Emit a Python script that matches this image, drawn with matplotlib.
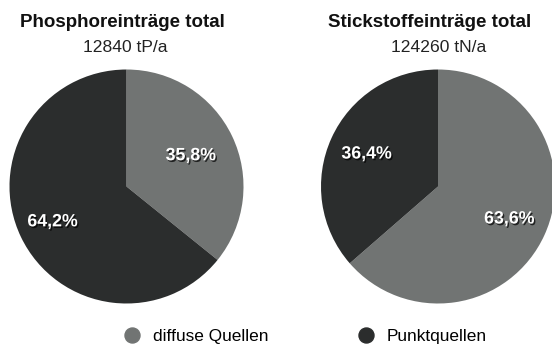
import matplotlib
matplotlib.use('Agg')
import matplotlib.pyplot as plt
import matplotlib.patheffects as pe
from matplotlib.lines import Line2D
import numpy as np

plt.rcParams['font.family'] = ['Liberation Sans', 'DejaVu Sans']

categories = ['diffuse Quellen', 'Punktquellen']
titles = ['Phosphoreinträge total', 'Stickstoffeinträge total']
totals = ['12840 tP/a', '124260 tN/a']
phosphor = [35.8, 64.2]
stickstoff = [63.6, 36.4]
colors = ['#717473', '#2b2d2d']

W, H = 552, 345
fig = plt.figure(figsize=(W / 100, H / 100), dpi=100)
ax = fig.add_axes([0, 0, 1, 1])

R = 117
layout = [
    (phosphor, (126.5, H - 186.5), [0.61, 0.70], 122, 125.5),
    (stickstoff, (438, H - 186.5), [0.67, 0.67], 429.5, 438.5),
]

shadow = [pe.SimplePatchShadow(offset=(1, -1.2), shadow_rgbFace='black', alpha=0.7), pe.Normal()]

for values, center, dists, tx, sx in layout:
    wedges, _ = ax.pie(values, colors=colors, startangle=90, counterclock=False,
                       radius=R, center=center, frame=True,
                       wedgeprops=dict(linewidth=0))
    for w, v, d in zip(wedges, values, dists):
        th = np.deg2rad((w.theta1 + w.theta2) / 2)
        x = center[0] + R * d * np.cos(th)
        y = center[1] + R * d * np.sin(th)
        ax.text(x, y, f"{v:.1f}".replace('.', ',') + '%', ha='center', va='center',
                color='white', fontsize=12.8, fontweight='bold', path_effects=shadow)

for (values, center, dists, tx, sx), t, s in zip(layout, titles, totals):
    fig.text(tx / W, (H - 27) / H, t, ha='center', va='baseline', fontsize=13.5,
             fontweight='bold', color='#111111')
    fig.text(sx / W, (H - 52) / H, s, ha='center', va='baseline', fontsize=12.6,
             color='#222222')

ax.set_xlim(0, W)
ax.set_ylim(0, H)
ax.set_aspect('auto')
ax.axis('off')

handles = [Line2D([], [], marker='o', linestyle='', color=c, markersize=10.8) for c in colors]
fig.legend(handles=handles, labels=categories, ncol=2, frameon=False, loc='center left',
           bbox_to_anchor=(123.4 / W, 8.5 / H), borderpad=0, borderaxespad=0,
           handlelength=1, handletextpad=0.72, columnspacing=5.14, fontsize=12.4)

fig.savefig('out.png', dpi=100, facecolor='white')
